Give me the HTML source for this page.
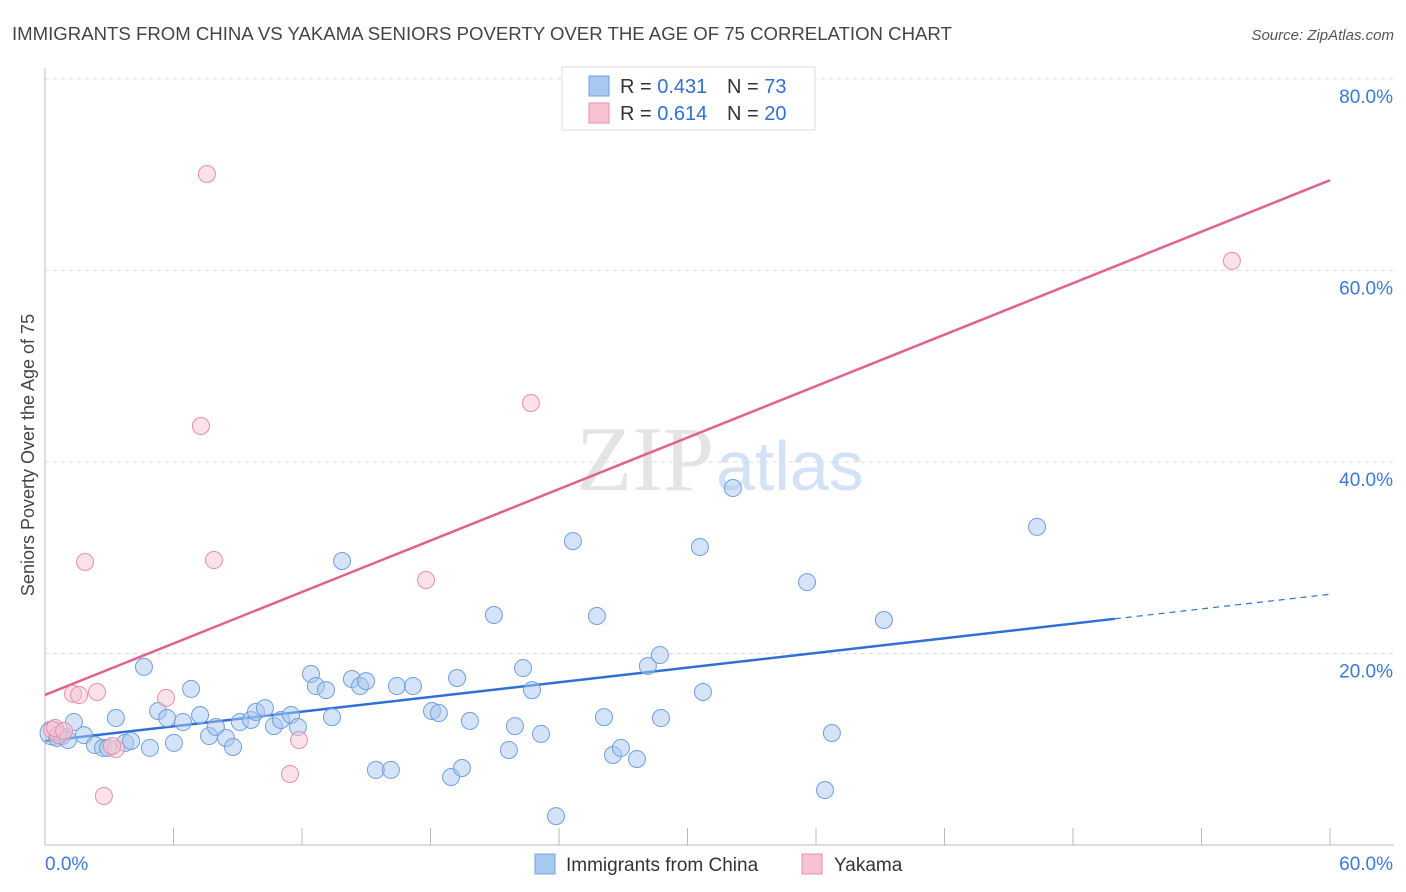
<!DOCTYPE html>
<html><head><meta charset="utf-8"><style>
body{margin:0;background:#fff;font-family:"Liberation Sans",sans-serif;}
svg{display:block}
</style></head><body>
<svg id="chart" width="1406" height="892">
<text x="12" y="40" font-size="18.6" fill="#444">IMMIGRANTS FROM CHINA VS YAKAMA SENIORS POVERTY OVER THE AGE OF 75 CORRELATION CHART</text>
<text x="1394" y="40" font-size="15" fill="#555" text-anchor="end" font-style="italic">Source: ZipAtlas.com</text>
<text x="714" y="490" font-size="92" fill="#e4e4e4" text-anchor="end" font-family="Liberation Serif">ZIP</text>
<text x="716" y="490" font-size="70" fill="#d3e2f5">atlas</text>
<text transform="translate(34,455) rotate(-90)" font-size="18" fill="#444" text-anchor="middle">Seniors Poverty Over the Age of 75</text>
<g id="grid"></g><g id="axes"></g><g id="lines"></g><g id="pts"></g>
<g>
<rect x="562" y="67" width="253" height="63" fill="#fff" stroke="#ddd"/>
<rect x="589" y="76" width="20" height="20" fill="#a9c8f0" stroke="#6f9fe0"/>
<text x="620" y="93" font-size="20" fill="#333">R = <tspan fill="#2f6fd6">0.431</tspan></text>
<text x="727" y="93" font-size="20" fill="#333">N = <tspan fill="#2f6fd6">73</tspan></text>
<rect x="589" y="103" width="20" height="20" fill="#f7c3d2" stroke="#e78fab"/>
<text x="620" y="120" font-size="20" fill="#333">R = <tspan fill="#2f6fd6">0.614</tspan></text>
<text x="727" y="120" font-size="20" fill="#333">N = <tspan fill="#2f6fd6">20</tspan></text>
</g>
<g>
<rect x="535" y="854" width="20" height="20" fill="#a9c8f0" stroke="#6f9fe0"/>
<text x="566" y="871" font-size="19" fill="#333">Immigrants from China</text>
<rect x="802" y="854" width="20" height="20" fill="#f7c3d2" stroke="#e78fab"/>
<text x="834" y="871" font-size="19" fill="#333">Yakama</text>
</g>
</svg>
<script>
const blueX=[0.33,0.56,0.79,1.07,1.35,1.82,2.33,2.71,2.94,3.31,3.74,4.02,4.62,4.90,5.28,5.70,6.02,6.44,6.82,7.24,7.66,7.98,8.45,8.78,9.10,9.62,9.85,10.27,10.69,11.02,11.49,11.81,12.42,12.65,13.12,13.40,13.87,14.33,14.71,14.99,15.45,16.15,16.43,17.18,18.07,18.39,18.96,19.24,19.47,19.84,20.96,21.66,21.94,22.32,22.74,23.16,23.86,24.65,25.77,26.10,26.52,26.89,27.64,28.15,28.71,28.76,30.58,30.72,32.12,35.58,36.42,36.74,39.17,46.32];
const blueY=[11.7,11.18,11.38,10.96,12.84,11.48,10.44,10.14,10.14,13.26,10.66,10.86,18.6,10.14,14.0,13.26,10.66,12.84,16.3,13.58,11.38,12.32,11.18,10.24,12.84,13.06,13.9,14.3,12.42,13.06,13.58,12.32,17.86,16.6,16.18,13.36,29.66,17.34,16.6,17.12,7.84,7.84,16.6,16.6,14.0,13.78,7.1,17.44,8.04,12.96,24.02,9.92,12.42,18.48,16.18,11.6,3.02,31.74,23.92,13.36,9.4,10.14,8.98,18.7,19.84,13.26,31.12,15.98,37.28,27.46,5.74,11.7,23.5,33.22];
const pinkX=[0.33,1.31,1.59,1.87,2.43,2.75,3.31,3.13,5.65,7.28,7.56,7.89,11.44,11.86,17.79,22.69,55.42,0.61,0.47,0.89];
const pinkY=[12.02,15.78,15.66,29.56,15.98,5.12,10.02,10.34,15.36,43.76,70.08,29.76,7.42,10.96,27.68,46.16,61.0,11.48,12.22,11.9];
const blueFit=[10.86,0.2555]; // intercept, slope
const pinkFit=[15.67,0.896];
const yTicks=[20,40,60,80];
const xTicks=[0,6,12,18,24,30,36,42,48,54,60];
const NS="http://www.w3.org/2000/svg";
const sx=v=>45+v*21.417, sy=v=>845-v*9.575;
function mk(p,t,a){const e=document.createElementNS(NS,t);for(const k in a)e.setAttribute(k,a[k]);document.getElementById(p).appendChild(e);return e;}
yTicks.forEach(v=>{
 const g=mk('grid','line',{x1:45,x2:1394,y1:sy(v),y2:sy(v),stroke:'#ddd','stroke-dasharray':'4,4'});
 
 
 const t=mk('grid','text',{x:1393,y:sy(v)+24,'font-size':19,fill:'#3b78d8','text-anchor':'end'});t.textContent=v.toFixed(1)+'%';
 
 
});
mk('axes','line',{x1:45,x2:45,y1:68,y2:845,stroke:'#bbb'});
mk('axes','line',{x1:45,x2:1394,y1:845,y2:845,stroke:'#bbb'});
xTicks.forEach(v=>{const l=mk('axes','line',{x1:sx(v),x2:sx(v),y1:828,y2:845,stroke:'#bbb'});
 
 });
[[0,'start',45],[60,'end',1393]].forEach(([v,a,x])=>{const t=mk('axes','text',{x:x,y:870,'font-size':19,fill:'#3b78d8','text-anchor':a});t.textContent=v.toFixed(1)+'%';
 
 });
const f=(c,x)=>c[0]+c[1]*x;
let l=mk('lines','line',{x1:sx(0),y1:sy(f(blueFit,0)),x2:sx(49.95),y2:sy(f(blueFit,49.95)),stroke:'#2f6fd6','stroke-width':2.5});


l=mk('lines','line',{x1:sx(49.95),y1:sy(f(blueFit,49.95)),x2:sx(60),y2:sy(f(blueFit,60)),stroke:'#2f6fd6','stroke-width':1.2,'stroke-dasharray':'6,5'});


l=mk('lines','line',{x1:sx(0),y1:sy(f(pinkFit,0)),x2:sx(60),y2:sy(f(pinkFit,60)),stroke:'#e0638f','stroke-width':2.5});


blueX.forEach((x,i)=>{const c=mk('pts','circle',{cx:sx(x),cy:sy(blueY[i]),r:i==0?12:8.5,fill:'rgba(169,200,240,0.5)',stroke:'#6f9fe0','stroke-width':1});
 
 });
pinkX.forEach((x,i)=>{const c=mk('pts','circle',{cx:sx(x),cy:sy(pinkY[i]),r:8.5,fill:'rgba(247,195,210,0.5)',stroke:'#e78fab','stroke-width':1});
 
 });
</script>
</body></html>
